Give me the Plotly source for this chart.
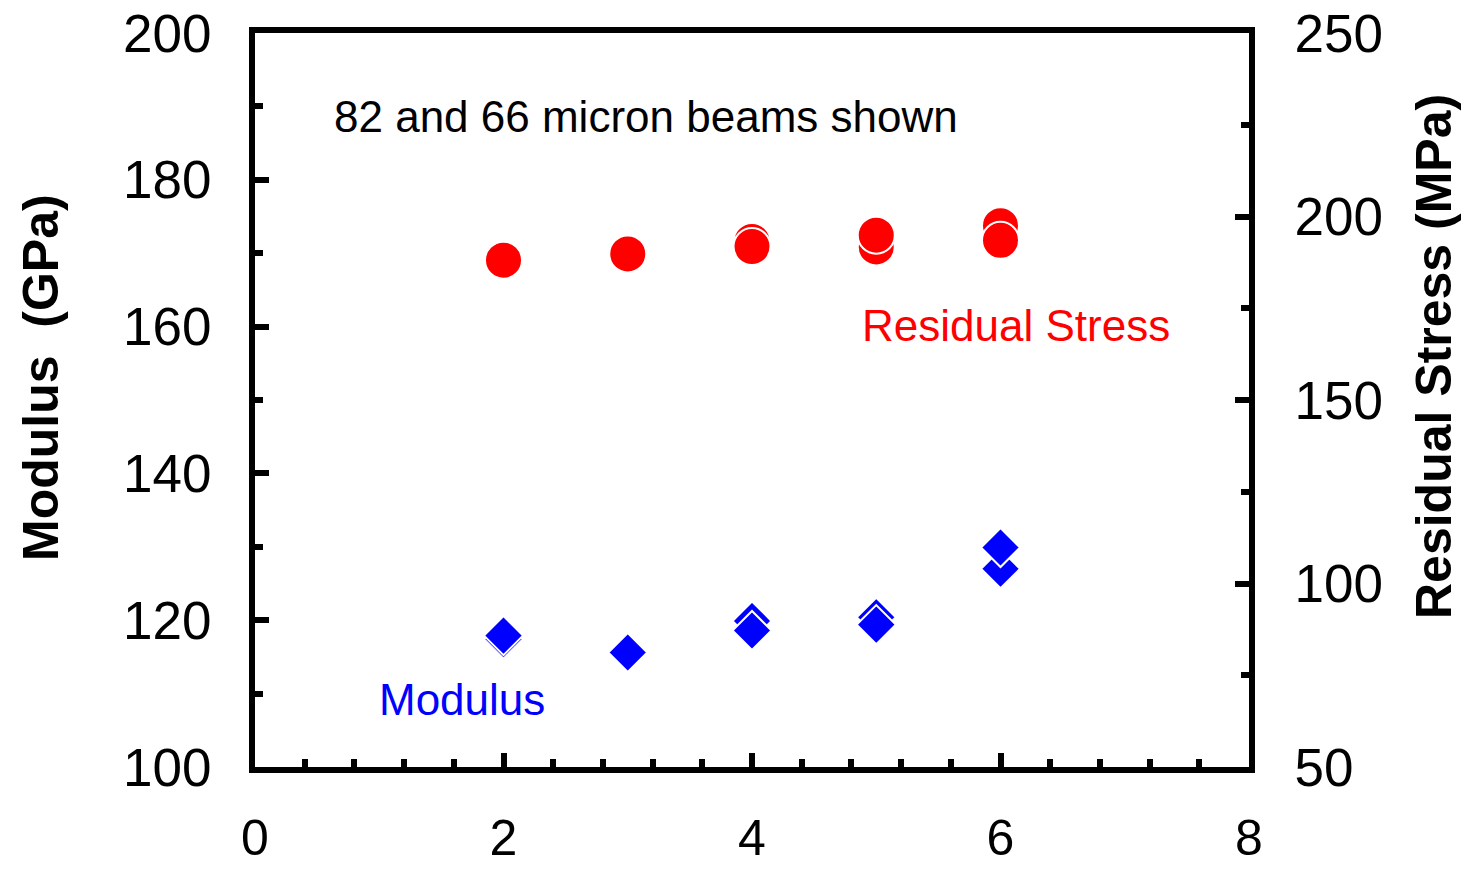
import plotly.graph_objects as go

# Beam length index on the x axis
beam_x = [2, 3, 4, 5, 6]

# Residual stress (MPa) for the two beam widths
stress_82 = [188.1, 189.8, 193.2, 191.7, 197.5]
stress_66 = [188.1, 189.8, 191.8, 194.9, 193.5]

# Modulus (GPa) for the two beam widths
modulus_82 = [117.4, 115.6, 119.9, 120.4, 127.0]
modulus_66 = [117.9, 115.6, 118.6, 119.4, 129.9]

FONT = "Liberation Sans, Arial, sans-serif"
RED = "#ff0000"
BLUE = "#0000ff"

fig = go.Figure()

circle = dict(symbol="circle", size=37, color=RED, line=dict(color="white", width=2))
diamond = dict(symbol="diamond", size=30, color=BLUE, line=dict(color="white", width=2))

fig.add_trace(go.Scatter(x=beam_x, y=modulus_82, mode="markers", marker=diamond,
                         yaxis="y", showlegend=False))
fig.add_trace(go.Scatter(x=beam_x, y=modulus_66, mode="markers", marker=diamond,
                         yaxis="y", showlegend=False))
fig.add_trace(go.Scatter(x=beam_x, y=stress_82, mode="markers", marker=circle,
                         yaxis="y2", showlegend=False))
fig.add_trace(go.Scatter(x=beam_x, y=stress_66, mode="markers", marker=circle,
                         yaxis="y2", showlegend=False))

axis_common = dict(
    showgrid=False, zeroline=False, showline=True, linecolor="black", linewidth=6,
    ticks="inside", tickcolor="black", tickwidth=6, ticklen=14,
    tickfont=dict(family=FONT, size=53, color="black"),
)

fig.update_layout(
    width=1470, height=869,
    margin=dict(l=255, r=221, t=33, b=102, autoexpand=False),
    paper_bgcolor="white", plot_bgcolor="white",
    font=dict(family=FONT, color="black"),
    xaxis=dict(
        range=[0, 8], dtick=2, tick0=0, mirror=True,
        minor=dict(dtick=0.4, tick0=0, ticks="inside", ticklen=8, tickwidth=6, tickcolor="black"),
        ticklabelstandoff=22,
        **{**axis_common, "tickfont": dict(family=FONT, size=50, color="black")},
    ),
    yaxis=dict(
        range=[100, 200], dtick=20, tick0=100,
        minor=dict(dtick=10, tick0=100, ticks="inside", ticklen=8, tickwidth=6, tickcolor="black"),
        ticklabelstandoff=27,
        **axis_common,
    ),
    yaxis2=dict(
        range=[50, 250], dtick=50, tick0=50, overlaying="y", side="right",
        minor=dict(dtick=25, tick0=50, ticks="inside", ticklen=8, tickwidth=6, tickcolor="black"),
        ticklabelstandoff=29,
        **axis_common,
    ),
)

# Axis titles
fig.add_annotation(x=41, y=378, xref="paper", yref="paper", text="<b>Modulus  (GPa)</b>",
                   textangle=-90, showarrow=False, xanchor="center", yanchor="middle",
                   font=dict(family=FONT, size=50, color="black"))
fig.add_annotation(x=1434, y=357, xref="paper", yref="paper", text="<b>Residual Stress (MPa)</b>",
                   textangle=-90, showarrow=False, xanchor="center", yanchor="middle",
                   font=dict(family=FONT, size=50, color="black"))

fig.add_annotation(x=0.62, y=188.6, xref="x", yref="y", text="82 and 66 micron beams shown",
                   showarrow=False, xanchor="left", yanchor="middle",
                   font=dict(family=FONT, size=44, color="black"))
fig.add_annotation(x=7.38, y=160.1, xref="x", yref="y", text="Residual Stress",
                   showarrow=False, xanchor="right", yanchor="middle",
                   font=dict(family=FONT, size=44, color=RED))
fig.add_annotation(x=0.98, y=109.2, xref="x", yref="y", text="Modulus",
                   showarrow=False, xanchor="left", yanchor="middle",
                   font=dict(family=FONT, size=44, color=BLUE))

# Convert the pixel positions of the axis titles into paper fractions
plot_w = 1470 - 255 - 221
plot_h = 869 - 33 - 102
for ann in fig.layout.annotations[:2]:
    ann.x = (ann.x - 255) / plot_w
    ann.y = (869 - 102 - ann.y) / plot_h

fig.write_html("out.html")
